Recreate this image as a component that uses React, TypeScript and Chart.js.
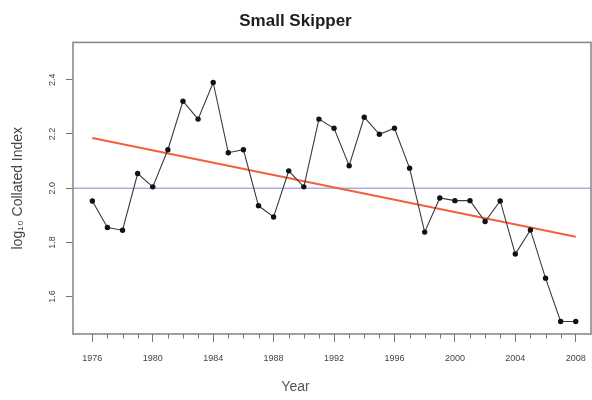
import React, { useEffect, useRef } from "react";
import { Chart, registerables } from "chart.js";

Chart.register(...registerables);

// ---- data ----
const years = [
  1976, 1977, 1978, 1979, 1980, 1981, 1982, 1983, 1984, 1985, 1986, 1987,
  1988, 1989, 1990, 1991, 1992, 1993, 1994, 1995, 1996, 1997, 1998, 1999,
  2000, 2001, 2002, 2003, 2004, 2005, 2006, 2007, 2008,
];
const collatedIndex = [
  1.953, 1.855, 1.845, 2.054, 2.005, 2.142, 2.321, 2.255, 2.39, 2.131, 2.142,
  1.935, 1.894, 2.064, 2.005, 2.255, 2.221, 2.083, 2.262, 2.199, 2.221, 2.074,
  1.838, 1.964, 1.954, 1.954, 1.877, 1.953, 1.757, 1.846, 1.668, 1.508, 1.508,
];
const trendYears = [1976, 2008];
const trendValues = [2.185, 1.821];
const referenceLevel = 2.0;
const xTickLabels = ["1976", "1980", "1984", "1988", "1992", "1996", "2000", "2004", "2008"];
const yTickValues = [1.6, 1.8, 2.0, 2.2, 2.4];

const X_MIN = 1974.72;
const X_MAX = 2009.01;
const Y_MIN = 1.462;
const Y_MAX = 2.538;

const FONT = "'Liberation Sans', Arial, Helvetica, sans-serif";

const framePlugin = {
  id: "rframe",
  afterDraw(chart: any) {
    const { ctx, chartArea } = chart;
    const xs = chart.scales.x;
    ctx.save();
    // minor year ticks
    ctx.strokeStyle = "#777";
    ctx.lineWidth = 1;
    ctx.beginPath();
    years.forEach((yr) => {
      if (xTickLabels.includes(String(yr))) return;
      const px = Math.round(xs.getPixelForValue(yr)) + 0.5;
      ctx.moveTo(px, chartArea.bottom);
      ctx.lineTo(px, chartArea.bottom + 4.5);
    });
    ctx.stroke();
    // box
    ctx.strokeStyle = "#8a8a8a";
    ctx.lineWidth = 1.6;
    ctx.strokeRect(chartArea.left, chartArea.top, chartArea.right - chartArea.left, chartArea.bottom - chartArea.top);
    ctx.restore();
  },
};

export default function App() {
  const ref = useRef<HTMLCanvasElement | null>(null);
  useEffect(() => {
    if (!ref.current) return;
    const chart = new Chart(ref.current, {
      type: "line",
      data: {
        datasets: [
          {
            label: "Index",
            data: years.map((y, i) => ({ x: y, y: collatedIndex[i] })),
            borderColor: "#3a3a3a",
            borderWidth: 1.1,
            pointRadius: 2.7,
            pointBackgroundColor: "#111",
            pointBorderColor: "#111",
            pointBorderWidth: 0,
            tension: 0,
          },
          {
            label: "Trend",
            data: trendYears.map((y, i) => ({ x: y, y: trendValues[i] })),
            borderColor: "#f2603f",
            borderWidth: 2,
            pointRadius: 0,
          },
          {
            label: "Reference",
            data: [
              { x: X_MIN, y: referenceLevel },
              { x: X_MAX, y: referenceLevel },
            ],
            borderColor: "#a9aee6",
            borderWidth: 1.6,
            pointRadius: 0,
          },
        ],
      },
      options: {
        animation: false,
        responsive: false,
        devicePixelRatio: 1,
        layout: { autoPadding: false, padding: { left: 0, right: 1, top: 0, bottom: 0 } },
        plugins: {
          legend: { display: false },
          tooltip: { enabled: false },
          title: {
            display: true,
            text: "Small Skipper",
            color: "#1e1e1e",
            font: { family: FONT, size: 17, weight: "bold", lineHeight: 1.2 },
            padding: { top: 11.5, bottom: 10.5 },
          },
          subtitle: {
            display: true,
            position: "bottom",
            text: "Year",
            color: "#555",
            font: { family: FONT, size: 14, lineHeight: 1.2 },
            padding: { top: 0, bottom: 4.6 },
          },
        },
        scales: {
          x: {
            type: "linear",
            min: X_MIN,
            max: X_MAX,
            afterFit: (s: any) => {
              s.height = 44.6;
              s.paddingLeft = 0;
              s.paddingRight = 0;
            },
            border: { display: false },
            grid: { drawOnChartArea: false, drawTicks: true, tickLength: 8, tickColor: "#777", tickWidth: 1 },
            ticks: {
              stepSize: 4,
              includeBounds: false,
              autoSkip: false,
              maxRotation: 0,
              padding: 11.6,
              color: "#444",
              font: { family: FONT, size: 9, lineHeight: 1.2 },
              callback: (v: any) => (xTickLabels.includes(String(v)) ? String(v) : ""),
            },
          },
          y: {
            type: "linear",
            min: Y_MIN,
            max: Y_MAX,
            afterFit: (s: any) => {
              s.width = 73;
              s.paddingTop = 0;
              s.paddingBottom = 0;
            },
            border: { display: false },
            grid: { drawOnChartArea: false, drawTicks: true, tickLength: 7, tickColor: "#777", tickWidth: 1 },
            ticks: {
              stepSize: 0.2,
              includeBounds: false,
              minRotation: 90,
              maxRotation: 90,
              crossAlign: "center",
              padding: 7.5,
              color: "#444",
              font: { family: FONT, size: 9, lineHeight: 1.2 },
              callback: (v: any) => {
                const m = yTickValues.find((t) => Math.abs(t - v) < 1e-6);
                return m === undefined ? "" : m.toFixed(1);
              },
            },
            title: {
              display: true,
              text: "log\u2081\u2080 Collated Index",
              color: "#444",
              font: { family: FONT, size: 14, lineHeight: 1.2 },
              padding: { top: 9.4, bottom: 0 },
            },
          },
        },
      },
      plugins: [framePlugin],
    } as any);
    return () => chart.destroy();
  }, []);
  return (
    <div style={{ position: "fixed", left: 0, top: 0, width: 592, height: 400, background: "#fff" }}>
      <canvas ref={ref} width={592} height={400} />
    </div>
  );
}
